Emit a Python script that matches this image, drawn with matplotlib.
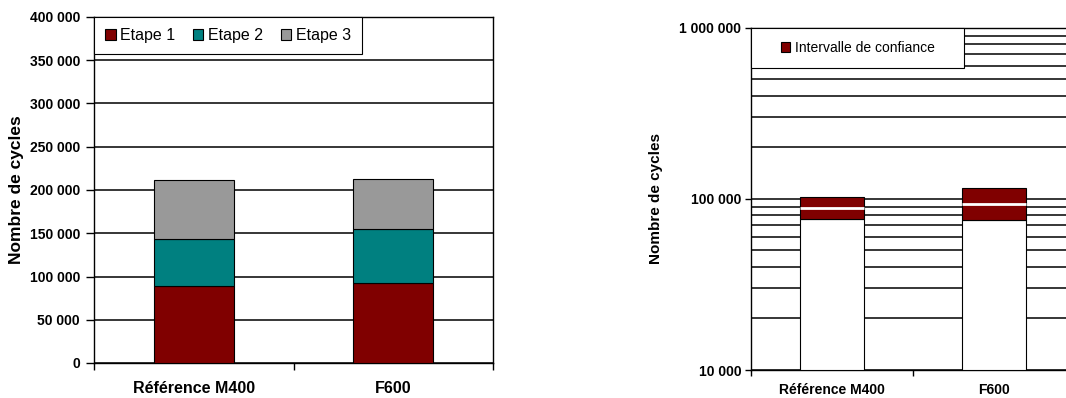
import numpy as np
import matplotlib.pyplot as plt
from matplotlib.patches import Rectangle, Patch
from matplotlib.ticker import FuncFormatter, NullFormatter, LogLocator, FixedLocator

plt.rcParams['font.family'] = ['Liberation Sans', 'DejaVu Sans']

# Data
categories = ["Référence M400", "F600"]
etape1 = [89000, 93000]
etape2 = [54000, 62000]
etape3 = [69000, 58000]

ic_bas = [76700, 75700]
ic_haut = [103000, 115000]
moyenne = [89000, 93500]

ticks_gauche = [0, 50000, 100000, 150000, 200000, 250000, 300000, 350000, 400000]

rouge = "#800000"
sarcelle = "#008080"
gris = "#999999"


def fmt_espace(v, pos=None):
    return f"{int(round(v)):,}".replace(",", " ")


fig = plt.figure(figsize=(10.66, 3.98), dpi=100)

# ---- left chart : stacked bars ----
ax1 = fig.add_axes([94 / 1066, 1 - 363 / 398, 399 / 1066, 346 / 398])
x = np.arange(len(categories))
w = 0.4
ax1.bar(x, etape1, w, color=rouge, edgecolor="black", linewidth=0.8, label="Etape 1", zorder=3)
ax1.bar(x, etape2, w, bottom=etape1, color=sarcelle, edgecolor="black", linewidth=0.8,
        label="Etape 2", zorder=3)
bas3 = np.array(etape1) + np.array(etape2)
ax1.bar(x, etape3, w, bottom=bas3, color=gris, edgecolor="black", linewidth=0.8,
        label="Etape 3", zorder=3)

ax1.set_xlim(-0.5, len(categories) - 0.5)
ax1.set_ylim(0, 400000)
ax1.set_yticks(ticks_gauche)
ax1.yaxis.set_major_formatter(FuncFormatter(fmt_espace))
ax1.yaxis.grid(True, color="black", linewidth=1.1)
ax1.set_axisbelow(True)
ax1.set_xticks(x)
ax1.set_xticklabels(categories, fontsize=11.5, fontweight="bold")
ax1.xaxis.set_minor_locator(FixedLocator([-0.5, 0.5, 1.5]))
ax1.tick_params(axis="x", which="major", length=0, pad=13)
ax1.tick_params(axis="x", which="minor", length=5, width=1, direction="out")
ax1.tick_params(axis="y", length=6, width=1, pad=4, labelsize=10)
for lab in ax1.get_yticklabels():
    lab.set_fontweight("bold")
ax1.set_ylabel("Nombre de cycles", fontsize=12.5, fontweight="bold", labelpad=4)
for s in ax1.spines.values():
    s.set_linewidth(1.0)
    s.set_color("black")

leg1 = ax1.legend(loc="upper left", bbox_to_anchor=(0, 1), borderaxespad=0, ncol=3,
                  fontsize=11.5, handlelength=0.65, handleheight=0.65, handletextpad=0.3,
                  columnspacing=1.1, borderpad=0.7, fancybox=False, framealpha=1,
                  edgecolor="black")
leg1.get_frame().set_linewidth(0.8)
leg1.set_zorder(5)

# ---- right chart : confidence interval, log scale ----
ax2 = fig.add_axes([751 / 1066, 1 - 370 / 398, 324 / 1066, 342.3 / 398])
ax2.set_yscale("log")
ymin, ymax = 10000, 1000000
ax2.set_ylim(ymin, ymax)
ax2.set_xlim(-0.5, len(categories) - 0.5)

ax2.bar(x, np.array(ic_bas) - ymin, w, bottom=ymin, color="white", edgecolor="black",
        linewidth=0.8, zorder=3)
ax2.bar(x, np.array(ic_haut) - np.array(ic_bas), w, bottom=ic_bas, color=rouge,
        edgecolor="black", linewidth=0.8, zorder=3)
ax2.hlines(moyenne, x - w / 2 + 0.004, x + w / 2 - 0.004, colors="white", linewidth=2, zorder=4)

ax2.yaxis.set_major_locator(LogLocator(base=10))
ax2.yaxis.set_minor_locator(LogLocator(base=10, subs=np.arange(2, 10)))
ax2.yaxis.set_major_formatter(FuncFormatter(fmt_espace))
ax2.yaxis.set_minor_formatter(NullFormatter())
ax2.yaxis.grid(True, which="both", color="black", linewidth=1.1)
ax2.set_axisbelow(True)
ax2.tick_params(axis="y", which="major", length=4, width=1, pad=3, labelsize=10)
ax2.tick_params(axis="y", which="minor", length=0)
for lab in ax2.get_yticklabels():
    lab.set_fontweight("bold")
ax2.set_xticks(x)
ax2.set_xticklabels(categories, fontsize=10, fontweight="bold")
ax2.xaxis.set_minor_locator(FixedLocator([-0.5, 0.5, 1.5]))
ax2.tick_params(axis="x", which="major", length=0, pad=9)
ax2.tick_params(axis="x", which="minor", length=4, width=1, direction="out")
ax2.set_ylabel("Nombre de cycles", fontsize=11, fontweight="bold", labelpad=12)
for s in ax2.spines.values():
    s.set_linewidth(1.0)
    s.set_color("black")

# legend box drawn over the gridlines
boite = Rectangle((0, 1 - 40 / 342.3), 213 / 324, 40 / 342.3, transform=ax2.transAxes,
                  facecolor="white", edgecolor="black", linewidth=0.8, zorder=5, clip_on=False)
ax2.add_patch(boite)
leg2 = ax2.legend(handles=[Patch(facecolor=rouge, edgecolor="black", linewidth=0.8,
                                 label="Intervalle de confiance")],
                  loc="center", bbox_to_anchor=(106.5 / 324, 1 - 20 / 342.3), frameon=False,
                  fontsize=10, handlelength=0.7, handleheight=0.7, handletextpad=0.3,
                  borderaxespad=0)
leg2.set_zorder(6)

fig.savefig("out.png", dpi=100)
